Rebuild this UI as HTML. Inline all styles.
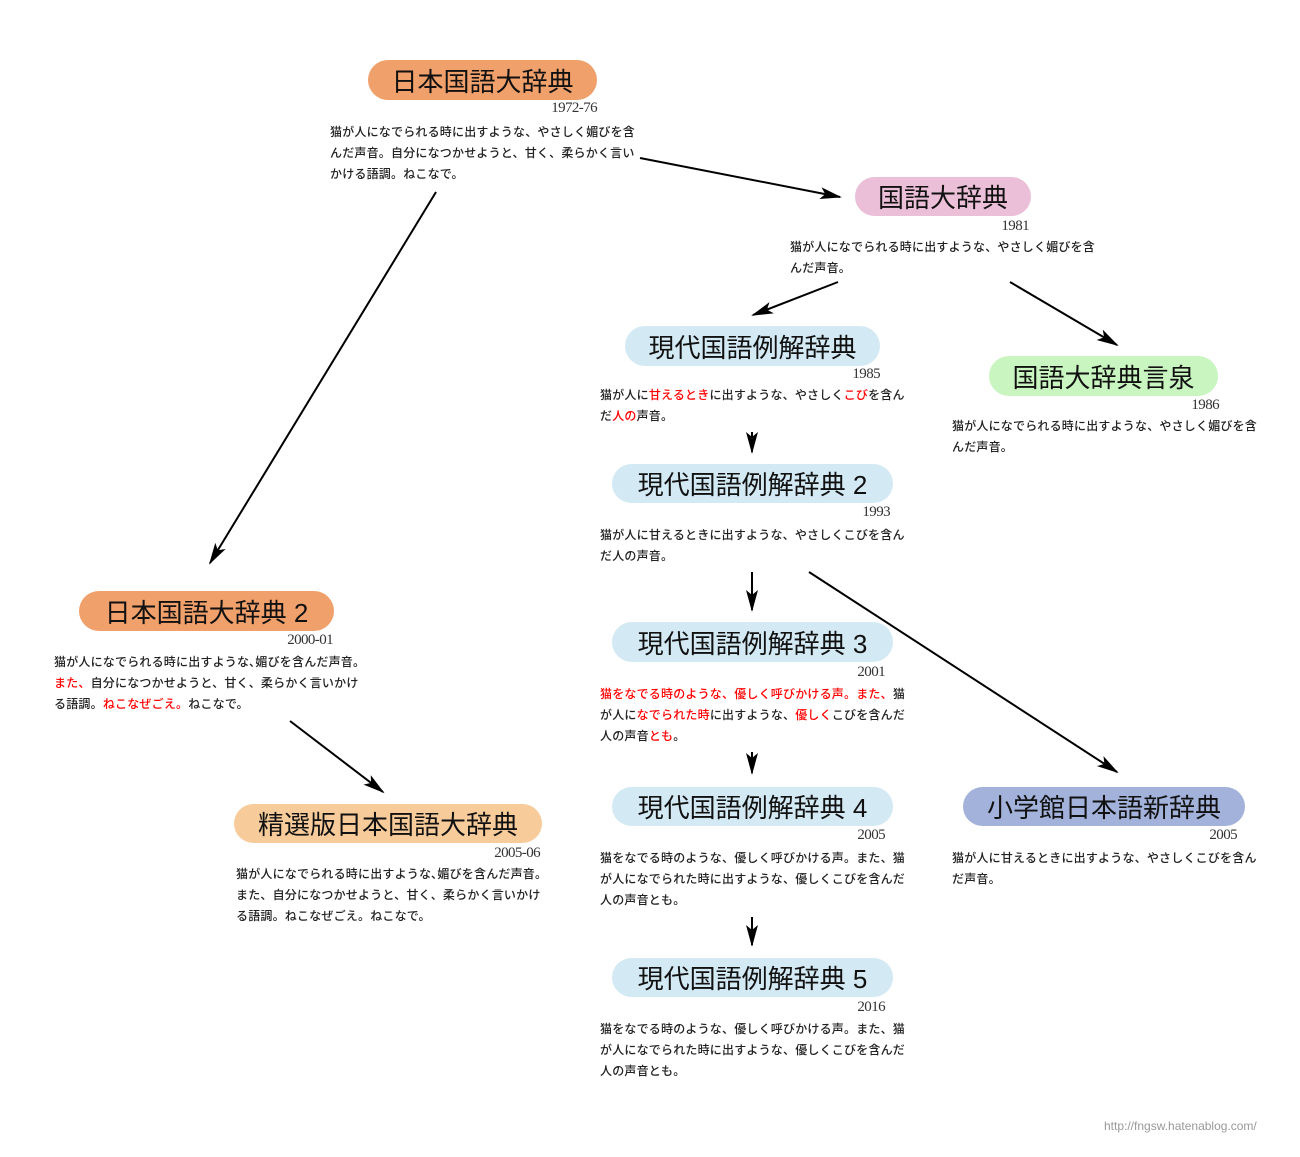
<!DOCTYPE html>
<html><head><meta charset="utf-8"><style>
body{margin:0;width:1300px;height:1157px;background:#fff;position:relative;overflow:hidden;font-family:"Liberation Sans","Noto Sans CJK JP",sans-serif;}
.p{position:absolute;border-radius:20px;display:flex;align-items:center;justify-content:center;font-size:26px;color:#111;white-space:nowrap;}
.y{position:absolute;font-family:"Liberation Serif",serif;font-size:15px;color:#333;letter-spacing:-0.6px;transform:translateX(-100%);line-height:16px;margin-top:1px;}
.d{position:absolute;font-size:12px;line-height:21px;color:#222;white-space:nowrap;letter-spacing:0.2px;font-weight:500;margin-top:2px;}
.r{color:#f00;}
</style></head><body>
<svg width="1300" height="1157" style="position:absolute;left:0;top:0">
<defs><marker id="a" markerWidth="22" markerHeight="12" refX="20" refY="6" orient="auto" markerUnits="userSpaceOnUse"><path d="M0,0 L22,6 L0,12 L5,6 Z" fill="#000"/></marker></defs>
<g stroke="#000" stroke-width="2" fill="none" marker-end="url(#a)">
<line x1="640" y1="158" x2="840" y2="197"/>
<line x1="436" y1="192" x2="210" y2="563"/>
<line x1="838" y1="282" x2="753" y2="315"/>
<line x1="1010" y1="282" x2="1117" y2="345"/>
<line x1="752" y1="432" x2="752" y2="452"/>
<line x1="752" y1="572" x2="752" y2="610"/>
<line x1="809" y1="572" x2="1117" y2="772"/>
<line x1="752" y1="752" x2="752" y2="773"/>
<line x1="752" y1="917" x2="752" y2="945"/>
<line x1="290" y1="721" x2="383" y2="792"/>
</g></svg>

<div class="p" style="left:368px;top:60px;width:229px;height:40px;background:#f0a06a">日本国語大辞典</div>
<div class="y" style="left:597px;top:99px">1972-76</div>
<div class="d" style="left:330px;top:120px">猫が人になでられる時に出すような、やさしく媚びを含<br>んだ声音。自分になつかせようと、甘く、柔らかく言い<br>かける語調。ねこなで。</div>

<div class="p" style="left:855px;top:177px;width:176px;height:39px;background:#ecbfd8">国語大辞典</div>
<div class="y" style="left:1029px;top:217px">1981</div>
<div class="d" style="left:790px;top:235px">猫が人になでられる時に出すような、やさしく媚びを含<br>んだ声音。</div>

<div class="p" style="left:625px;top:326px;width:255px;height:40px;background:#d3e9f3">現代国語例解辞典</div>
<div class="y" style="left:880px;top:365px">1985</div>
<div class="d" style="left:600px;top:383px">猫が人に<span class="r">甘えるとき</span>に出すような、やさしく<span class="r">こび</span>を含ん<br>だ<span class="r">人の</span>声音。</div>

<div class="p" style="left:989px;top:356px;width:229px;height:40px;background:#c9f5c0">国語大辞典言泉</div>
<div class="y" style="left:1219px;top:396px">1986</div>
<div class="d" style="left:952px;top:414px">猫が人になでられる時に出すような、やさしく媚びを含<br>んだ声音。</div>

<div class="p" style="left:612px;top:464px;width:281px;height:39px;background:#d3e9f3">現代国語例解辞典 2</div>
<div class="y" style="left:890px;top:503px">1993</div>
<div class="d" style="left:600px;top:523px">猫が人に甘えるときに出すような、やさしくこびを含ん<br>だ人の声音。</div>

<div class="p" style="left:79px;top:591px;width:255px;height:40px;background:#f0a06a">日本国語大辞典 2</div>
<div class="y" style="left:333px;top:631px">2000-01</div>
<div class="d" style="left:54px;top:650px">猫が人になでられる時に出すような､媚びを含んだ声音。<br><span class="r">また、</span>自分になつかせようと、甘く、柔らかく言いかけ<br>る語調。<span class="r">ねこなぜごえ。</span>ねこなで。</div>

<div class="p" style="left:612px;top:622px;width:281px;height:40px;background:#d3e9f3">現代国語例解辞典 3</div>
<div class="y" style="left:885px;top:663px">2001</div>
<div class="d" style="left:600px;top:682px"><span class="r">猫をなでる時のような、優しく呼びかける声。また、</span>猫<br>が人に<span class="r">なでられた時</span>に出すような、<span class="r">優しく</span>こびを含んだ<br>人の声音<span class="r">とも</span>。</div>

<div class="p" style="left:234px;top:804px;width:308px;height:39px;background:#f8cc9a">精選版日本国語大辞典</div>
<div class="y" style="left:540px;top:844px">2005-06</div>
<div class="d" style="left:236px;top:862px">猫が人になでられる時に出すような､媚びを含んだ声音。<br>また、自分になつかせようと、甘く、柔らかく言いかけ<br>る語調。ねこなぜごえ。ねこなで。</div>

<div class="p" style="left:612px;top:787px;width:281px;height:39px;background:#d3e9f3">現代国語例解辞典 4</div>
<div class="y" style="left:885px;top:826px">2005</div>
<div class="d" style="left:600px;top:846px">猫をなでる時のような、優しく呼びかける声。また、猫<br>が人になでられた時に出すような、優しくこびを含んだ<br>人の声音とも。</div>

<div class="p" style="left:963px;top:787px;width:282px;height:39px;background:#a3b2db">小学館日本語新辞典</div>
<div class="y" style="left:1237px;top:826px">2005</div>
<div class="d" style="left:952px;top:846px">猫が人に甘えるときに出すような、やさしくこびを含ん<br>だ声音。</div>

<div class="p" style="left:612px;top:958px;width:281px;height:39px;background:#d3e9f3">現代国語例解辞典 5</div>
<div class="y" style="left:885px;top:998px">2016</div>
<div class="d" style="left:600px;top:1017px">猫をなでる時のような、優しく呼びかける声。また、猫<br>が人になでられた時に出すような、優しくこびを含んだ<br>人の声音とも。</div>

<div style="position:absolute;left:1104px;top:1119px;font-size:12px;color:#999;">http://fngsw.hatenablog.com/</div>
</body></html>
